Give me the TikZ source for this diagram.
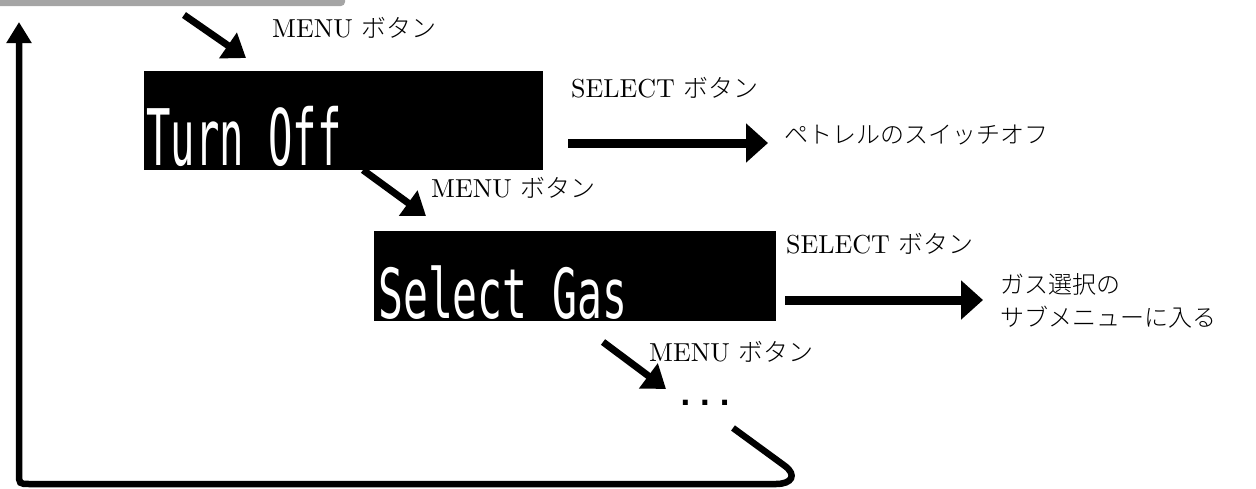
\documentclass[tikz,border=0pt]{standalone}
\usepackage{fontspec}
\usepackage{graphicx}
\usetikzlibrary{arrows.meta}
\setmainfont{lmroman10-regular.otf}
\newfontfamily\jp{Noto Sans CJK JP}[UprightFont=* Light]
\newfontfamily\lcd{DejaVu Sans Mono}
\newfontfamily\dotf{DejaVu Sans}
\definecolor{bargray}{RGB}{165,165,165}
\begin{document}
\begin{tikzpicture}[x=1pt,y=-1pt,
  lbl/.style={anchor=west, inner sep=0pt, font=\fontsize{26}{30}\selectfont},
  jlbl/.style={anchor=west, inner sep=0pt, align=left, font=\jp\fontsize{24}{33}\selectfont},
  screen/.style={fill=black, draw=none, inner sep=0pt, anchor=north west},
  lcdtext/.style={anchor=base west, inner sep=0pt, text=white},
  fat/.style={line width=9pt, -{Triangle[length=22pt,width=38pt]}},
  diag/.style={line width=7pt, -{Triangle[length=22pt,width=30pt]}},
  ret/.style={line width=6.5pt, -{Triangle[length=21pt,width=24pt]}},
]
\useasboundingbox (0,0) rectangle (1256,488);
% top grey bar
\fill[bargray, rounded corners=4pt] (-10,-10) rectangle (345,6);

% screens
\node[screen, minimum width=399pt, minimum height=99pt] (turnoff) at (144,71) {};
\node[lcdtext] (turnofftxt) at (146,165) {\scalebox{0.52}[1]{\lcd\fontsize{78}{78}\selectfont Turn Off}};
\node[screen, minimum width=402pt, minimum height=90pt] (selgas) at (374,231) {};
\node[lcdtext] (selgastxt) at (378,318) {\scalebox{0.6}[1]{\lcd\fontsize{69}{69}\selectfont Select Gas}};

% labels
\node[lbl] (menu1) at (272,28) {MENU {\jp\fontsize{25}{30}\selectfont ボタン}};
\node[lbl] (sel1) at (571,88) {SELECT {\jp\fontsize{25}{30}\selectfont ボタン}};
\node[jlbl] (res1) at (784,135) {ペトレルのスイッチオフ};
\node[lbl] (menu2) at (431,188) {MENU {\jp\fontsize{25}{30}\selectfont ボタン}};
\node[lbl] (sel2) at (786,244) {SELECT {\jp\fontsize{25}{30}\selectfont ボタン}};
\node[jlbl] (res2) at (1000,301) {ガス選択の\\サブメニューに入る};
\node[lbl] (menu3) at (649,352) {MENU {\jp\fontsize{25}{30}\selectfont ボタン}};
\node[anchor=base, inner sep=0pt] (dots) at (705,405) {\dotf\bfseries\fontsize{28}{28}\selectfont .\hspace{9pt}.\hspace{9pt}.};

% coordinates
\coordinate (m1a) at (184,15);
\coordinate (m1b) at (246,58);
\coordinate (m2a) at (363,170);
\coordinate (m2b) at (426,216);
\coordinate (m3a) at (603,342);
\coordinate (m3b) at (666,389);
\coordinate (s1a) at (568,143);
\coordinate (s1b) at (768,143);
\coordinate (s2a) at (785,300);
\coordinate (s2b) at (983,300);
\coordinate (r0) at (733,428);
\coordinate (rtop) at (19,22);

% arrows
\draw[diag] (m1a) -- (m1b);
\draw[diag] (m2a) -- (m2b);
\draw[diag] (m3a) -- (m3b);
\draw[fat] (s1a) -- (s1b);
\draw[fat] (s2a) -- (s2b);
\draw[ret] (r0) -- (785,466) .. controls (797,475) and (792,484) .. (776,484)
  -- (30,484) .. controls (19,484) .. (19,473) -- (rtop);
\end{tikzpicture}
\end{document}
